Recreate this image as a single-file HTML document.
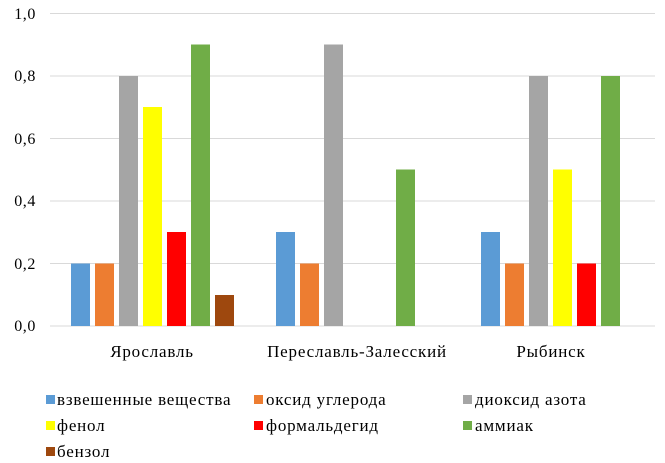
<!DOCTYPE html><html><head><meta charset="utf-8"><style>body{margin:0;background:#fff}svg{display:block}text{font-family:"Liberation Serif",serif;font-size:17px;letter-spacing:0.8px;fill:#000}.tk text{font-size:16px;letter-spacing:0.6px}</style></head><body>
<svg width="665" height="463" xmlns="http://www.w3.org/2000/svg">
<g stroke="#d9d9d9" stroke-width="1">
<line x1="50" x2="655" y1="13.5" y2="13.5"/><line x1="50" x2="655" y1="76" y2="76"/><line x1="50" x2="655" y1="138.5" y2="138.5"/><line x1="50" x2="655" y1="201" y2="201"/><line x1="50" x2="655" y1="263.5" y2="263.5"/><line x1="50" x2="655" y1="326" y2="326"/></g>
<g text-anchor="end" class="tk"><text x="36" y="19">1,0</text><text x="36" y="81">0,8</text><text x="36" y="144">0,6</text><text x="36" y="206">0,4</text><text x="36" y="269">0,2</text><text x="36" y="331">0,0</text></g>
<g>
<rect x="71" y="263.5" width="19" height="62.5" fill="#5b9bd5"/>
<rect x="95" y="263.5" width="19" height="62.5" fill="#ed7d31"/>
<rect x="119" y="76" width="19" height="250" fill="#a5a5a5"/>
<rect x="143" y="107" width="19" height="219" fill="#ffff00"/>
<rect x="167" y="232" width="19" height="94" fill="#ff0000"/>
<rect x="191" y="44.5" width="19" height="281.5" fill="#70ad47"/>
<rect x="215" y="295" width="19" height="31" fill="#9e480e"/>
<rect x="276" y="232" width="19" height="94" fill="#5b9bd5"/>
<rect x="300" y="263.5" width="19" height="62.5" fill="#ed7d31"/>
<rect x="324" y="44.5" width="19" height="281.5" fill="#a5a5a5"/>
<rect x="396" y="169.5" width="19" height="156.5" fill="#70ad47"/>
<rect x="481" y="232" width="19" height="94" fill="#5b9bd5"/>
<rect x="505" y="263.5" width="19" height="62.5" fill="#ed7d31"/>
<rect x="529" y="76" width="19" height="250" fill="#a5a5a5"/>
<rect x="553" y="169.5" width="19" height="156.5" fill="#ffff00"/>
<rect x="577" y="263.5" width="19" height="62.5" fill="#ff0000"/>
<rect x="601" y="76" width="19" height="250" fill="#70ad47"/>
</g>
<g text-anchor="middle"><text x="152" y="357">Ярославль</text><text x="357" y="357">Переславль-Залесский</text><text x="551" y="357">Рыбинск</text></g>
<rect x="46" y="395" width="9" height="9" fill="#5b9bd5"/><text x="57" y="405">взвешенные вещества</text>
<rect x="254" y="395" width="9" height="9" fill="#ed7d31"/><text x="266" y="405">оксид углерода</text>
<rect x="463" y="395" width="9" height="9" fill="#a5a5a5"/><text x="475" y="405">диоксид азота</text>
<rect x="46" y="421" width="9" height="9" fill="#ffff00"/><text x="57" y="431">фенол</text>
<rect x="254" y="421" width="9" height="9" fill="#ff0000"/><text x="266" y="431">формальдегид</text>
<rect x="463" y="421" width="9" height="9" fill="#70ad47"/><text x="475" y="431">аммиак</text>
<rect x="46" y="447" width="9" height="9" fill="#9e480e"/><text x="57" y="457">бензол</text>
</svg></body></html>
